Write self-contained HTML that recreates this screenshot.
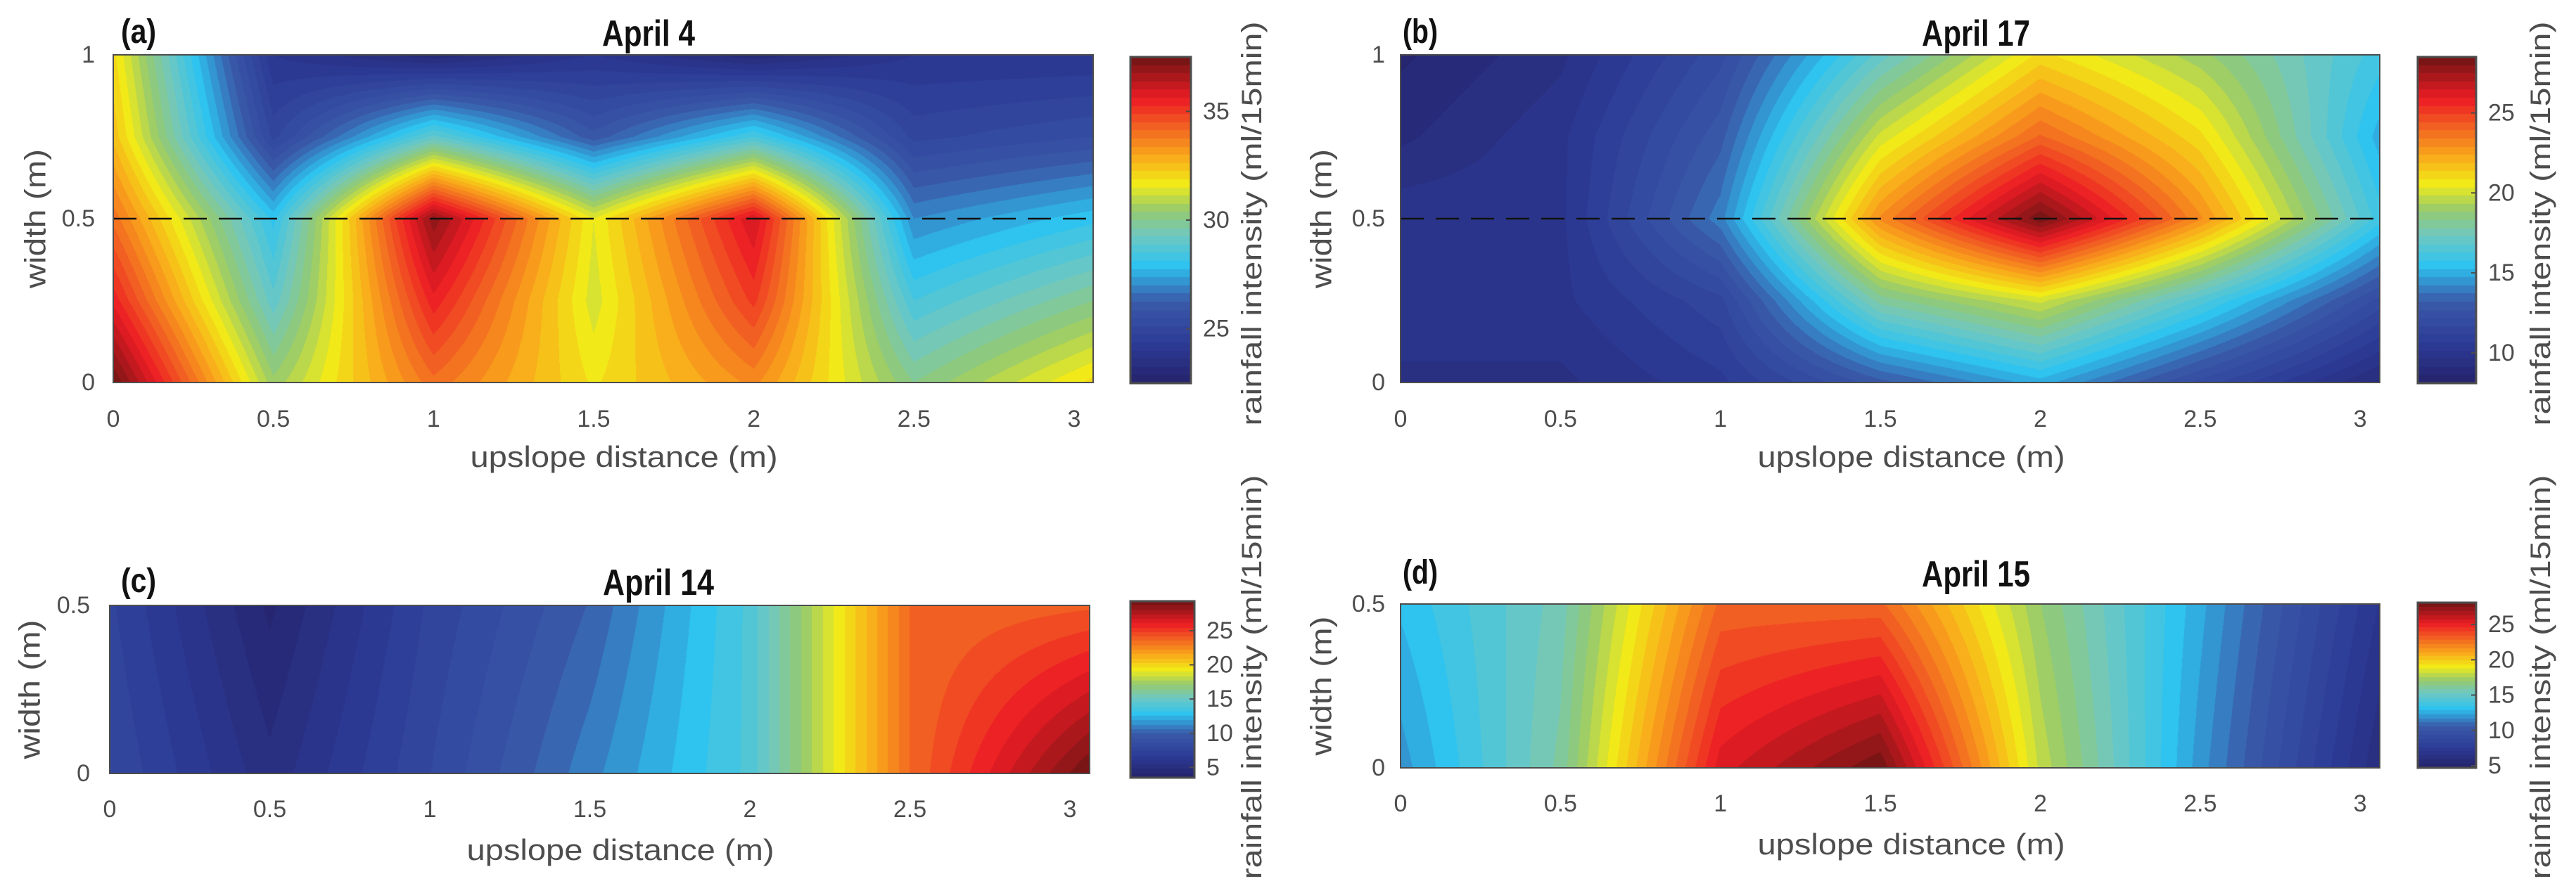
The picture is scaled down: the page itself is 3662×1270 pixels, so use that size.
<!DOCTYPE html>
<html><head><meta charset="utf-8"><style>
html,body{margin:0;padding:0;background:#fff;}
#root{position:relative;width:3662px;height:1270px;overflow:hidden;background:#fff;}
canvas{position:absolute;}
svg{position:absolute;left:0;top:0;}
</style></head><body>
<div id="root">
<canvas id="ca"></canvas>
<canvas id="cb"></canvas>
<canvas id="cc"></canvas>
<canvas id="cd"></canvas>
<canvas id="ka"></canvas>
<canvas id="kb"></canvas>
<canvas id="kc"></canvas>
<canvas id="kd"></canvas>
<svg id="ov" width="3662" height="1270" xmlns="http://www.w3.org/2000/svg"></svg>
</div>
<script>
// grid nodes (upslope distance, m)
const xNodes = [0, 0.5, 1, 1.5, 2, 2.5, 3.06];
const yNodesFull = [0, 0.25, 0.5, 0.75, 1];
const yNodesHalf = [0, 0.5];
// April 4 values (rows y=0..1)
const april4 = [
  [37.5, 30.5, 34, 31.8, 33.5, 30, 32],
  [35.5, 29, 35.5, 31.3, 35, 28.5, 30],
  [34, 28, 37, 31.5, 36, 27, 28],
  [32.5, 25, 29, 26, 28.5, 25, 25.5],
  [32, 24, 23, 24, 23, 24, 24]
];
// April 17
const april17 = [
  [9.5, 9.5, 10.5, 13, 15, 12, 9],
  [10, 10, 11.5, 18, 20, 16.5, 12],
  [10, 10, 14, 23, 28.4, 23, 16],
  [9, 10, 13, 20, 24, 21, 15],
  [8.5, 9.5, 12, 17, 21, 19, 16]
];
// April 14 (rows y=0, 0.5)
const april14 = [
  [8, 5, 8, 11, 14, 23.5, 29.3],
  [7.5, 4, 7.5, 10, 14, 23.5, 24]
];
// April 15
const april15 = [
  [12, 16, 25.5, 28, 18, 12, 6],
  [13, 15.5, 23, 23, 17, 12.5, 7]
];
const ticksX = [0, 0.5, 1, 1.5, 2, 2.5, 3];
const ticksXLbl = ["0","0.5","1","1.5","2","2.5","3"];
const ticksYFull = [0, 0.5, 1];
const ticksYHalf = [0, 0.5];
const cbTicksA = [25, 30, 35];
const cbTicksB = [10, 15, 20, 25];
const cbTicksC = [5, 10, 15, 20, 25];
const cbTicksD = [5, 10, 15, 20, 25];

const panels = [
 {id:'a', canvas:'ca', key:'ka', label:'(a)', title:'April 4', z:april4, ys:yNodesFull, vmin:22.5, vmax:37.5, cbt:cbTicksA,
  x0:161, x1:1554, y0:78, y1:544, xs:455.3, ymax:1, yt:ticksYFull, yl:['0','0.5','1'], dashed:true,
  cbx0:1607, cbx1:1693, cby0:81, cby1:545, titleX:922, titleY:65, titleW:132, labX:172, ytR:135, ylabX:50,
  xtY:607, xlY:664, xlX:887, cblX:1780, cblY:318},
 {id:'b', canvas:'cb', key:'kb', label:'(b)', title:'April 17', z:april17, ys:yNodesFull, vmin:8.1, vmax:28.5, cbt:cbTicksB,
  x0:1991, x1:3383, y0:78, y1:544, xs:454.7, ymax:1, yt:ticksYFull, yl:['0','0.5','1'], dashed:true,
  cbx0:3437, cbx1:3520, cby0:81, cby1:545, titleX:2809, titleY:65, titleW:154, labX:1994, ytR:1969, ylabX:1878,
  xtY:607, xlY:664, xlX:2717, cblX:3612, cblY:318},
 {id:'c', canvas:'cc', key:'kc', label:'(c)', title:'April 14', z:april14, ys:yNodesHalf, vmin:3.5, vmax:29.3, cbt:cbTicksC,
  x0:156, x1:1549, y0:861, y1:1100, xs:455, ymax:0.5, yt:ticksYHalf, yl:['0','0.5'], dashed:false,
  cbx0:1607, cbx1:1698, cby0:855, cby1:1106, titleX:936, titleY:846, titleW:158, labX:172, ytR:128, ylabX:42,
  xtY:1162, xlY:1223, xlX:882, cblX:1780, cblY:963},
 {id:'d', canvas:'cd', key:'kd', label:'(d)', title:'April 15', z:april15, ys:yNodesHalf, vmin:4.7, vmax:28.1, cbt:cbTicksD,
  x0:1991, x1:3383, y0:859, y1:1092, xs:454.7, ymax:0.5, yt:ticksYHalf, yl:['0','0.5'], dashed:false,
  cbx0:3437, cbx1:3520, cby0:857, cby1:1092, titleX:2809, titleY:834, titleW:154, labX:1994, ytR:1969, ylabX:1878,
  xtY:1154, xlY:1215, xlX:2717, cblX:3612, cblY:963}
];

const stops = [
 [0,[37,34,107]],[0.12,[44,59,150]],[0.25,[58,90,169]],[0.36,[45,195,240]],[0.45,[111,200,194]],
 [0.53,[150,202,110]],[0.61,[242,235,24]],[0.7,[249,165,27]],[0.78,[242,101,34]],[0.87,[237,28,36]],[1,[110,20,20]]
];
function cmap(t){
  t=Math.max(0,Math.min(1,t));
  for(let i=1;i<stops.length;i++){
    if(t<=stops[i][0]){const a=stops[i-1],b=stops[i];const f=(t-a[0])/(b[0]-a[0]);
      return [0,1,2].map(k=>Math.round(a[1][k]+(b[1][k]-a[1][k])*f));}
  }
  return stops[stops.length-1][1];
}
const NLEV=40;
function quant(t){return (Math.floor(Math.max(0,Math.min(0.9999,t))*NLEV)+0.5)/NLEV;}
function interp(z,ys,x,y){
  let i=0; while(i<xNodes.length-2 && x>xNodes[i+1]) i++;
  let j=0; while(j<ys.length-2 && y>ys[j+1]) j++;
  const fx=Math.max(0,Math.min(1,(x-xNodes[i])/(xNodes[i+1]-xNodes[i])));
  const fy=Math.max(0,Math.min(1,(y-ys[j])/(ys[j+1]-ys[j])));
  return z[j][i]*(1-fx)*(1-fy)+z[j][i+1]*fx*(1-fy)+z[j+1][i]*(1-fx)*fy+z[j+1][i+1]*fx*fy;
}
const NS='http://www.w3.org/2000/svg';
const ov=document.getElementById('ov');
function mk(tag,attrs,txt){const e=document.createElementNS(NS,tag);for(const k in attrs)e.setAttribute(k,attrs[k]);if(txt!==undefined)e.textContent=txt;ov.appendChild(e);return e;}
const FONT='"Liberation Sans", sans-serif';
const GRAY='#4d4d4d';

panels.forEach(p=>{
  const W=p.x1-p.x0, H=p.y1-p.y0;
  const sx=x=>p.x0+x*p.xs;
  const sy=y=>p.y1-(y/p.ymax)*H;
  const cv=document.getElementById(p.canvas);
  cv.width=W; cv.height=H; cv.style.left=p.x0+'px'; cv.style.top=p.y0+'px';
  const ctx=cv.getContext('2d'); const img=ctx.createImageData(W,H);
  for(let py=0;py<H;py++){const yv=(1-(py+0.5)/H)*p.ymax;
    for(let px=0;px<W;px++){const xv=(px+0.5)/p.xs;
      const v=interp(p.z,p.ys,xv,yv);
      const c=cmap(quant((v-p.vmin)/(p.vmax-p.vmin)));
      const o=(py*W+px)*4; img.data[o]=c[0];img.data[o+1]=c[1];img.data[o+2]=c[2];img.data[o+3]=255;}}
  ctx.putImageData(img,0,0);
  const kc=document.getElementById(p.key); const KW=p.cbx1-p.cbx0, KH=p.cby1-p.cby0;
  kc.width=KW; kc.height=KH; kc.style.left=p.cbx0+'px'; kc.style.top=p.cby0+'px';
  const k2=kc.getContext('2d');
  for(let y=0;y<KH;y++){const c=cmap(quant(1-(y+0.5)/KH));k2.fillStyle=`rgb(${c[0]},${c[1]},${c[2]})`;k2.fillRect(0,y,KW,1);}
  const cy=v=>p.cby1-(v-p.vmin)/(p.vmax-p.vmin)*KH;
  let e;
  e=mk('rect',{x:p.cbx0,y:p.cby0,width:KW,height:KH,fill:'none',stroke:GRAY,'stroke-width':3});
  
  
  p.cbt.forEach(v=>{
    e=mk('line',{x1:p.cbx1-7,x2:p.cbx1,y1:cy(v),y2:cy(v),stroke:GRAY,'stroke-width':2});
    
    
    e=mk('text',{x:p.cbx1+17,y:cy(v),'font-family':FONT,'font-size':34,fill:GRAY,'dominant-baseline':'central'},String(v));
    
    
  });
  e=mk('text',{x:p.cblX,y:p.cblY,'font-family':FONT,'font-size':40,fill:GRAY,'text-anchor':'middle','dominant-baseline':'central',transform:`rotate(-90 ${p.cblX} ${p.cblY})`,textLength:575,lengthAdjust:'spacingAndGlyphs'},'rainfall intensity (ml/15min)');
  
  
  if(p.dashed){
    e=mk('line',{x1:p.x0,x2:p.x1,y1:sy(0.5),y2:sy(0.5),stroke:'#111','stroke-width':2.5,'stroke-dasharray':'33 17'});
    
    
  }
  e=mk('rect',{x:p.x0,y:p.y0,width:W,height:H,fill:'none',stroke:GRAY,'stroke-width':2});
  
  
  ticksX.forEach((v,i)=>{
    e=mk('text',{x:sx(v),y:p.xtY,'font-family':FONT,'font-size':34,fill:GRAY,'text-anchor':'middle'},ticksXLbl[i]);
    
    
  });
  p.yt.forEach((v,i)=>{
    e=mk('text',{x:p.ytR,y:sy(v),'font-family':FONT,'font-size':34,fill:GRAY,'text-anchor':'end','dominant-baseline':'central'},p.yl[i]);
    
    
  });
  e=mk('text',{x:p.xlX,y:p.xlY,'font-family':FONT,'font-size':42,fill:GRAY,'text-anchor':'middle',textLength:437,lengthAdjust:'spacingAndGlyphs'},'upslope distance (m)');
  
  
  const ylc=(p.y0+p.y1)/2;
  e=mk('text',{x:p.ylabX,y:ylc,'font-family':FONT,'font-size':42,fill:GRAY,'text-anchor':'middle','dominant-baseline':'central',transform:`rotate(-90 ${p.ylabX} ${ylc})`,textLength:198,lengthAdjust:'spacingAndGlyphs'},'width (m)');
  
  
  e=mk('text',{x:p.titleX,y:p.titleY,'font-family':FONT,'font-size':52,'font-weight':'bold',fill:'#111','text-anchor':'middle',textLength:p.titleW,lengthAdjust:'spacingAndGlyphs'},p.title);
  
  
  e=mk('text',{x:p.labX,y:p.titleY-4,'font-family':FONT,'font-size':48,'font-weight':'bold',fill:'#111',textLength:50,lengthAdjust:'spacingAndGlyphs'},p.label);
  
  
});
</script>
</body></html>
